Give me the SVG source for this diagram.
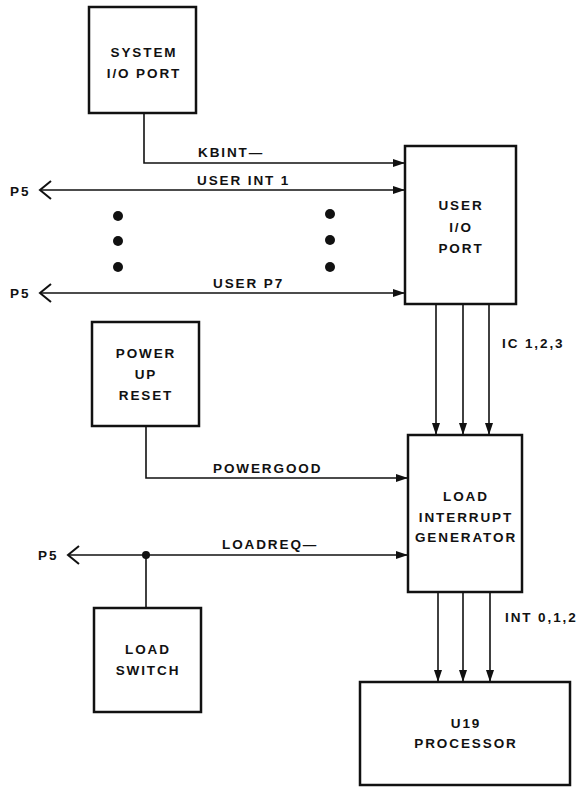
<svg xmlns="http://www.w3.org/2000/svg" width="588" height="787" viewBox="0 0 588 787">
<style>
.box{fill:#fff;stroke:#111;stroke-width:2.5}
.ln{fill:none;stroke:#111;stroke-width:1.6}
.chev{fill:none;stroke:#111;stroke-width:2}
text{font-family:"Liberation Sans",Arial,sans-serif;font-size:13.5px;font-weight:bold;fill:#111;letter-spacing:1.9px}
.c{text-anchor:middle}
.dot{fill:#111}
</style>
<defs>
<marker id="tri" viewBox="0 0 12 8" refX="12" refY="4" markerWidth="12" markerHeight="8" markerUnits="userSpaceOnUse" orient="auto">
<path d="M0,0 L12,4 L0,8 Z" fill="#111"/>
</marker>
</defs>
<rect width="588" height="787" fill="#fff"/>
<g id="connectors">
<path class="ln" d="M144,113 V163 H405" marker-end="url(#tri)"/>
<path class="ln" d="M40,190 H405" marker-end="url(#tri)"/>
<path class="chev" d="M51,181 L40,190 L51,199"/>
<path class="ln" d="M40,293 H405" marker-end="url(#tri)"/>
<path class="chev" d="M51,284 L40,293 L51,302"/>
<path class="ln" d="M436,304 V435" marker-end="url(#tri)"/>
<path class="ln" d="M463,304 V435" marker-end="url(#tri)"/>
<path class="ln" d="M489,304 V435" marker-end="url(#tri)"/>
<path class="ln" d="M146,426 V478 H408" marker-end="url(#tri)"/>
<path class="ln" d="M68,555 H408" marker-end="url(#tri)"/>
<path class="chev" d="M79,546 L68,555 L79,564"/>
<path class="ln" d="M146,555 V608"/>
<circle class="dot" cx="146" cy="555" r="4"/>
<path class="ln" d="M438,592 V682" marker-end="url(#tri)"/>
<path class="ln" d="M463,592 V682" marker-end="url(#tri)"/>
<path class="ln" d="M490,592 V682" marker-end="url(#tri)"/>
<circle class="dot" cx="118" cy="216" r="5"/>
<circle class="dot" cx="118" cy="241" r="5"/>
<circle class="dot" cx="118" cy="267" r="5"/>
<circle class="dot" cx="330" cy="214" r="5"/>
<circle class="dot" cx="330" cy="240" r="5"/>
<circle class="dot" cx="330" cy="267" r="5"/>
<text x="198" y="157">KBINT—</text>
<text x="197" y="185">USER INT 1</text>
<text x="213" y="288">USER P7</text>
<text x="213" y="473">POWERGOOD</text>
<text x="222" y="549">LOADREQ—</text>
<text x="502" y="348">IC 1,2,3</text>
<text x="505" y="622">INT 0,1,2</text>
<text x="10" y="196">P5</text>
<text x="10" y="298">P5</text>
<text x="38" y="560">P5</text>
</g>
<g id="system-io-port">
<rect class="box" x="89" y="7" width="107" height="106"/>
<text class="c" x="144" y="57">SYSTEM</text>
<text class="c" x="144" y="78">I/O PORT</text>
</g>
<g id="user-io-port">
<rect class="box" x="405" y="146" width="111" height="158"/>
<text class="c" x="461" y="210">USER</text>
<text class="c" x="461" y="232">I/O</text>
<text class="c" x="461" y="253">PORT</text>
</g>
<g id="power-up-reset">
<rect class="box" x="92" y="322" width="107" height="104"/>
<text class="c" x="146" y="358">POWER</text>
<text class="c" x="146" y="379">UP</text>
<text class="c" x="146" y="400">RESET</text>
</g>
<g id="load-interrupt-generator">
<rect class="box" x="408" y="435" width="114" height="157"/>
<text class="c" x="466" y="501">LOAD</text>
<text class="c" x="466" y="522">INTERRUPT</text>
<text class="c" x="466" y="542">GENERATOR</text>
</g>
<g id="load-switch">
<rect class="box" x="94" y="608" width="107" height="104"/>
<text class="c" x="148" y="654">LOAD</text>
<text class="c" x="148" y="675">SWITCH</text>
</g>
<g id="u19-processor">
<rect class="box" x="360" y="682" width="210" height="103"/>
<text class="c" x="466" y="728">U19</text>
<text class="c" x="466" y="748">PROCESSOR</text>
</g>
</svg>
